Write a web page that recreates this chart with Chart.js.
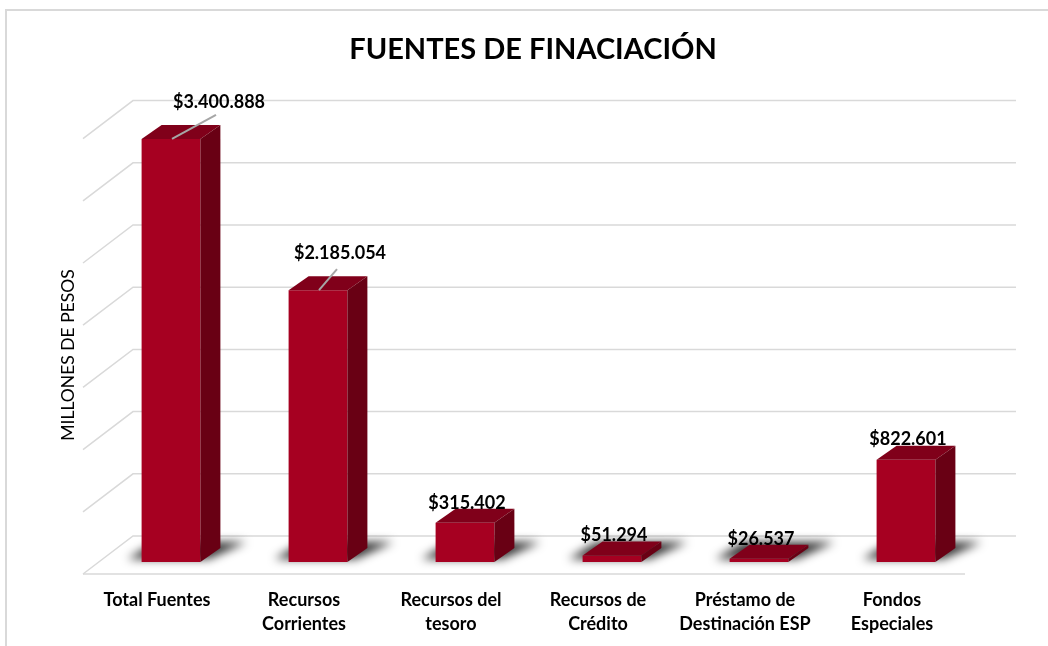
<!DOCTYPE html>
<html>
<head>
<meta charset="utf-8">
<script src="https://cdn.jsdelivr.net/npm/chart.js@4/dist/chart.umd.min.js"></script>
<style>
  html, body { margin: 0; padding: 0; background: #fff; }
</style>
</head>
<body>
<canvas id="fuentes" width="1048" height="646"></canvas>
<script>
// datos (millones de pesos)
const categorias = [
  'Total Fuentes',
  ['Recursos', 'Corrientes'],
  ['Recursos del', 'tesoro'],
  ['Recursos de', 'Crédito'],
  ['Préstamo de', 'Destinación ESP'],
  ['Fondos', 'Especiales']
];
const valores = [3400888, 2185054, 315402, 51294, 26537, 822601];
const ejeMax = 3500000;
const ejePaso = 500000;

const FRONT = '#a60021';
const TOP = '#80001a';
const SIDE = '#690014';
const GRID = '#d9d9d9';

// profundidad de las barras y de las paredes
const bar3d = { dx: 20, dy: 14 };
const wall = { backX: 35.5, backY: -26, depthX: 50, depthY: 38 };

function pesos(v) {
  return '$' + v.toString().replace(/\B(?=(\d{3})+(?!\d))/g, '.');
}

const fake3d = {
  id: 'fake3d',
  beforeDraw(chart) {
    const ctx = chart.ctx;
    ctx.save();
    ctx.strokeStyle = GRID;
    ctx.lineWidth = 2;
    ctx.beginPath();
    ctx.moveTo(6, chart.height);
    ctx.lineTo(6, 10);
    ctx.lineTo(chart.width, 10);
    ctx.stroke();
    ctx.restore();
  },
  beforeDatasetsDraw(chart) {
    const ctx = chart.ctx;
    const area = chart.chartArea;
    const y = chart.scales.y;
    ctx.save();
    ctx.strokeStyle = GRID;
    ctx.lineWidth = 1.5;
    // pared del fondo y pared izquierda
    y.ticks.forEach(t => {
      const by = y.getPixelForValue(t.value) + wall.backY;
      const bx = area.left + wall.backX;
      ctx.beginPath();
      ctx.moveTo(bx - wall.depthX, by + wall.depthY);
      ctx.lineTo(bx, by);
      ctx.lineTo(area.right + wall.backX + 1, by);
      ctx.stroke();
    });
    // borde frontal del piso
    const fy = y.getPixelForValue(0) + wall.backY + wall.depthY;
    ctx.beginPath();
    ctx.moveTo(area.left + wall.backX - wall.depthX, fy);
    ctx.lineTo(area.right + wall.backX - wall.depthX, fy);
    ctx.stroke();

    // sombras en el piso
    const meta = chart.getDatasetMeta(0);
    ctx.filter = 'blur(5px)';
    ctx.fillStyle = 'rgba(0,0,0,0.8)';
    meta.data.forEach(el => {
      const p = el.getProps(['x', 'y', 'base', 'width'], true);
      const x0 = p.x - p.width / 2, x1 = p.x + p.width / 2, b = p.base;
      ctx.beginPath();
      ctx.moveTo(x0 - 14, b - 3);
      ctx.lineTo(x1 + 8, b - 3);
      ctx.lineTo(x1 + bar3d.dx + 26, b - bar3d.dy - 6);
      ctx.lineTo(x0 + bar3d.dx - 6, b - bar3d.dy - 6);
      ctx.closePath();
      ctx.fill();
    });
    ctx.filter = 'none';
    ctx.restore();
  },
  afterDatasetsDraw(chart) {
    const ctx = chart.ctx;
    const meta = chart.getDatasetMeta(0);
    const { dx, dy } = bar3d;
    ctx.save();
    meta.data.forEach((el, i) => {
      const p = el.getProps(['x', 'y', 'base', 'width'], true);
      const x0 = p.x - p.width / 2, x1 = p.x + p.width / 2;
      // cara superior
      ctx.fillStyle = TOP;
      ctx.beginPath();
      ctx.moveTo(x0, p.y);
      ctx.lineTo(x1, p.y);
      ctx.lineTo(x1 + dx, p.y - dy);
      ctx.lineTo(x0 + dx, p.y - dy);
      ctx.closePath();
      ctx.fill();
      // cara lateral
      ctx.fillStyle = SIDE;
      ctx.beginPath();
      ctx.moveTo(x1, p.y);
      ctx.lineTo(x1 + dx, p.y - dy);
      ctx.lineTo(x1 + dx, p.base - dy);
      ctx.lineTo(x1, p.base);
      ctx.closePath();
      ctx.fill();
    });

    // etiquetas de datos
    ctx.font = 'bold 18px Lato';
    ctx.textAlign = 'center';
    ctx.textBaseline = 'middle';
    meta.data.forEach((el, i) => {
      const p = el.getProps(['x', 'y'], true);
      let lx = p.x + 2, ly = p.y - 20;
      if (i === 0 || i === 1) {
        const off = i === 0 ? [48, -37, 45, -24] : [22, -37, 19, -21];
        ctx.strokeStyle = '#a6a6a6';
        ctx.lineWidth = 2;
        ctx.beginPath();
        ctx.moveTo(p.x + 1, p.y);
        ctx.lineTo(p.x + off[2], p.y + off[3]);
        ctx.stroke();
        lx = p.x + off[0];
        ly = p.y + off[1];
      }
      ctx.fillStyle = '#000';
      ctx.fillText(pesos(valores[i]), lx, ly);
    });

    // titulo del eje
    ctx.font = '17.5px Lato';
    ctx.translate(68, 355);
    ctx.rotate(-Math.PI / 2);
    ctx.fillText('MILLONES DE PESOS', 0, 0);
    ctx.restore();
  }
};

new Chart(document.getElementById('fuentes'), {
  type: 'bar',
  data: {
    labels: categorias,
    datasets: [{
      data: valores,
      backgroundColor: FRONT,
      borderWidth: 0,
      barPercentage: 0.4,
      categoryPercentage: 1
    }]
  },
  options: {
    responsive: false,
    animation: false,
    devicePixelRatio: 1,
    layout: { padding: { left: 86.5, right: 68.5, top: 0, bottom: 0 } },
    plugins: {
      legend: { display: false },
      tooltip: { enabled: false },
      title: {
        display: true,
        text: 'FUENTES DE FINACIACIÓN',
        color: '#000',
        font: { family: 'Lato', size: 29, weight: 'bold', lineHeight: 1.2 },
        padding: { top: 32.6, bottom: 59.2 }
      }
    },
    scales: {
      x: {
        grid: { display: false },
        border: { display: false },
        ticks: {
          color: '#000',
          font: { family: 'Lato', size: 18, weight: 'bold', lineHeight: 1.333 },
          padding: 18,
          labelOffset: -14,
          maxRotation: 0,
          autoSkip: false
        },
        afterFit(scale) { scale.height = 84; }
      },
      y: {
        min: 0,
        max: ejeMax,
        grid: { display: false },
        border: { display: false },
        ticks: { display: false, stepSize: ejePaso },
        afterFit(scale) { scale.width = 11; }
      }
    }
  },
  plugins: [fake3d]
});
</script>
</body>
</html>
